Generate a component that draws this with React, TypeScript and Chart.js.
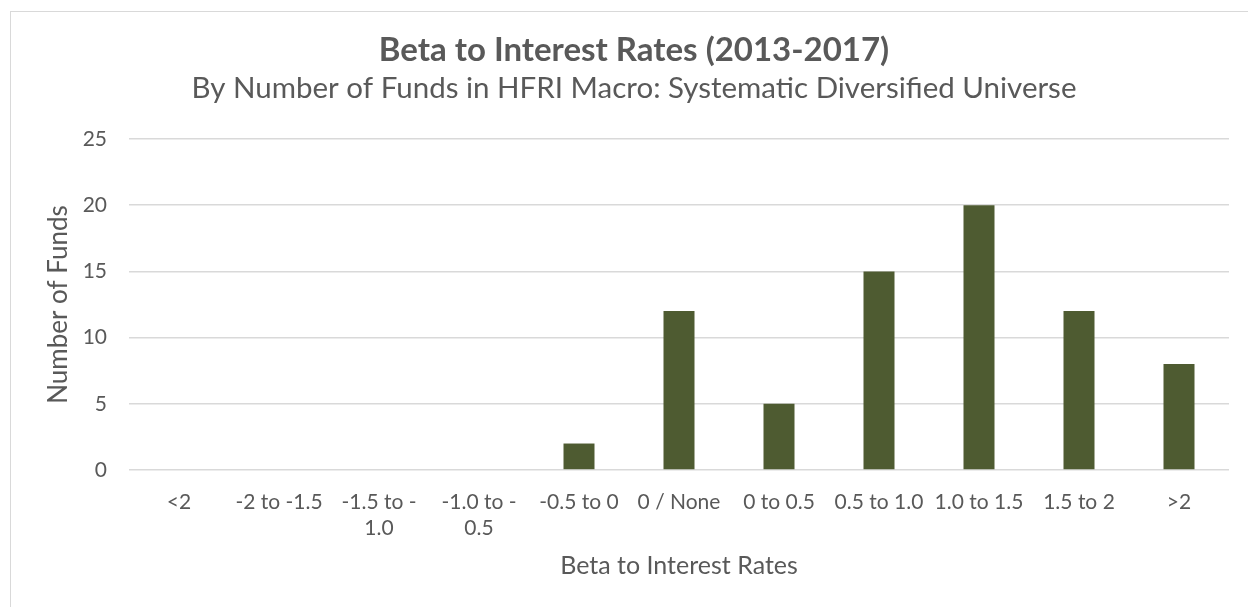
import React, { useEffect, useRef } from 'react';
import { Chart, registerables } from 'chart.js';

Chart.register(...registerables);

const categories: string[][] = [
  ['<2'],
  ['-2 to -1.5'],
  ['-1.5 to -', '1.0'],
  ['-1.0 to -', '0.5'],
  ['-0.5 to 0'],
  ['0 / None'],
  ['0 to 0.5'],
  ['0.5 to 1.0'],
  ['1.0 to 1.5'],
  ['1.5 to 2'],
  ['>2'],
];
const fundCounts: number[] = [0, 0, 0, 0, 2, 12, 5, 15, 20, 12, 8];
const yTickValues: number[] = [0, 5, 10, 15, 20, 25];

const titleText = 'Beta to Interest Rates (2013-2017)';
const subtitleText = 'By Number of Funds in HFRI Macro: Systematic Diversified Universe';
const xAxisTitle = 'Beta to Interest Rates';
const yAxisTitle = 'Number of Funds';

const TEXT = '#595959';
const GRID = '#d9d9d9';
const BAR = '#4E5B31';
const FONT = 'Lato';

export default function App() {
  const ref = useRef<HTMLCanvasElement>(null);

  useEffect(() => {
    if (!ref.current) return;
    const chart = new Chart(ref.current, {
      type: 'bar',
      data: {
        labels: categories,
        datasets: [
          {
            data: fundCounts,
            backgroundColor: BAR,
            borderWidth: 0,
            barPercentage: 0.31,
            categoryPercentage: 1,
          },
        ],
      },
      options: {
        animation: false,
        responsive: false,
        maintainAspectRatio: false,
        layout: { padding: { left: 28, right: 28, top: 0, bottom: 0 } },
        plugins: {
          legend: { display: false },
          tooltip: { enabled: false },
          title: {
            display: true,
            text: titleText,
            color: TEXT,
            font: { family: FONT, size: 33, weight: 'bold', lineHeight: 1.2 },
            padding: { top: 19, bottom: 0 },
          },
          subtitle: {
            display: true,
            text: subtitleText,
            color: TEXT,
            font: { family: FONT, size: 29.5, weight: 'normal', lineHeight: 1.2 },
            padding: { top: 0, bottom: 33 },
          },
        },
        scales: {
          x: {
            grid: { display: false, drawTicks: false },
            border: { display: false },
            ticks: {
              color: TEXT,
              font: { family: FONT, size: 21, lineHeight: 1.25 },
              padding: 19,
              autoSkip: false,
              maxRotation: 0,
              minRotation: 0,
            },
            title: {
              display: true,
              text: xAxisTitle,
              color: TEXT,
              font: { family: FONT, size: 25, lineHeight: 1.2 },
              padding: { top: 0, bottom: 26 },
            },
            afterFit: (s: any) => {
              s.height = 137;
            },
          },
          y: {
            min: 0,
            max: 25,
            grid: { color: GRID, lineWidth: 1.6, drawTicks: false },
            border: { display: false },
            ticks: {
              color: TEXT,
              font: { family: FONT, size: 21 },
              padding: 22,
            },
            afterBuildTicks: (s: any) => {
              s.ticks = yTickValues.map((v) => ({ value: v }));
            },
            title: {
              display: true,
              text: yAxisTitle,
              color: TEXT,
              font: { family: FONT, size: 26, lineHeight: 1.2 },
              padding: { top: 4, bottom: 0 },
            },
            afterFit: (s: any) => {
              s.width = 90;
            },
          },
        },
      },
    });
    return () => chart.destroy();
  }, []);

  return (
    <div
      style={{
        position: 'fixed',
        left: 0,
        top: 0,
        width: 1248,
        height: 607,
        overflow: 'hidden',
        background: '#ffffff',
      }}
    >
      <div
        style={{
          position: 'absolute',
          left: 10,
          top: 11,
          width: 1260,
          height: 620,
          border: '1px solid #d9d9d9',
          boxSizing: 'border-box',
          background: '#ffffff',
        }}
      >
        <canvas
          ref={ref}
          width={1246}
          height={595}
          style={{ display: 'block', width: 1246, height: 595 }}
        />
      </div>
    </div>
  );
}
